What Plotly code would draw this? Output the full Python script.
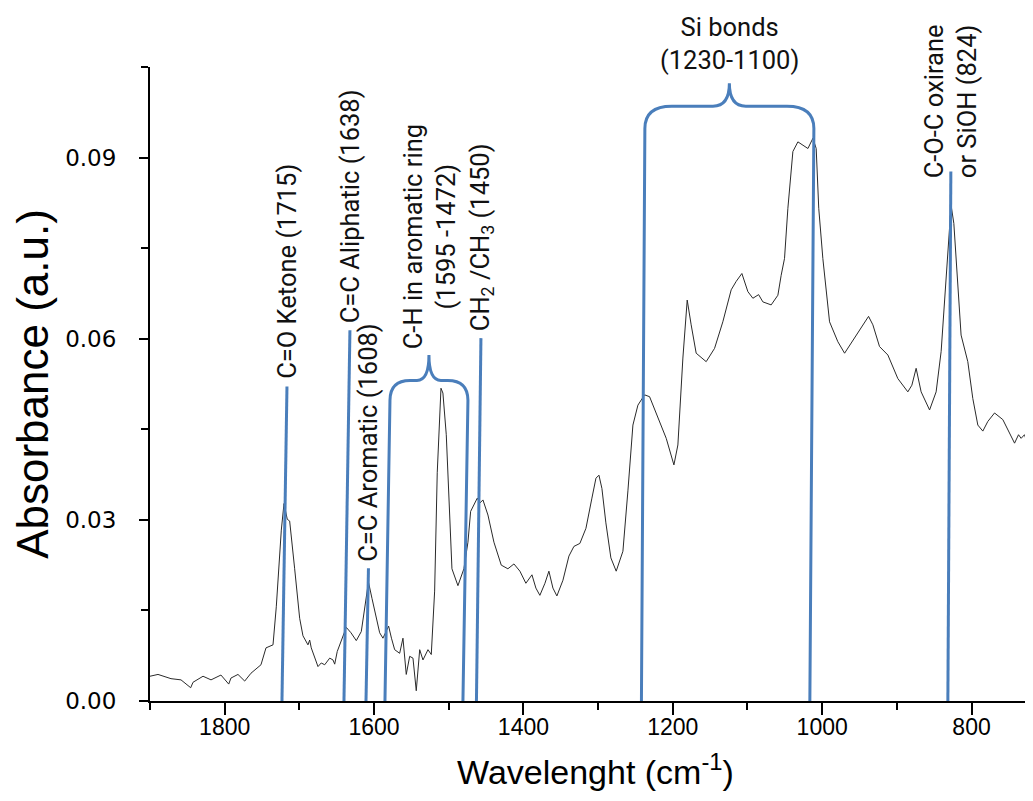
import plotly.graph_objects as go

# ---------------- spectrum (wavenumber cm-1, absorbance a.u.) ----------------
wavenumber = [1900, 1889.3, 1871.9, 1858.5, 1845.5, 1842.4, 1829.0, 1818.3, 1805.0, 1794.6,
              1791.6, 1782.2, 1773.2, 1764.8, 1751.4, 1744.7, 1735.3, 1730.9, 1724.2, 1720.6,
              1716.2, 1713.0, 1706.3, 1699.6, 1695.2, 1688.5, 1686.2, 1684.1, 1675.1, 1670.7,
              1666.1, 1659.4, 1655.0, 1652.7, 1649.3, 1643.9, 1637.2, 1630.9, 1623.8, 1617.1,
              1612.2, 1607.5, 1602.8, 1598.8, 1592.5, 1588.1, 1580.5, 1576.7, 1572.4, 1565.7,
              1561.3, 1556.9, 1552.3, 1547.9, 1543.5, 1538.9, 1534.5, 1527.8, 1523.4, 1518.9,
              1515.4, 1510.4, 1507.8, 1503.3, 1498.8, 1495.7, 1487.7, 1479.7, 1474.3, 1470.7,
              1461.8, 1458.2, 1454.2, 1447.5, 1439.5, 1429.7, 1420.8, 1412.7, 1404.7, 1396.7,
              1388.6, 1383.3, 1378.0, 1371.2, 1365.9, 1360.5, 1355.2, 1347.1, 1339.1, 1332.4,
              1324.4, 1316.3, 1308.3, 1302.9, 1298.9, 1294.9, 1289.6, 1282.9, 1275.8, 1266.8,
              1260.1, 1253.4, 1246.7, 1237.8, 1231.1, 1220.0, 1208.8, 1198.5, 1193.2, 1186.5,
              1180.7, 1175.4, 1168.7, 1155.3, 1144.1, 1133.0, 1121.8, 1115.1, 1107.5, 1099.5,
              1092.8, 1085.1, 1079.4, 1068.3, 1059.3, 1054.9, 1050.4, 1045.9, 1039.2, 1032.5,
              1025.8, 1019.1, 1012.4, 1008.0, 1004.6, 999.1, 990.1, 979.0, 970.0, 956.7,
              947.8, 937.9, 932.1, 923.2, 912.0, 898.7, 885.3, 879.9, 874.2, 867.5,
              856.2, 847.4, 840.7, 835.3, 829.5, 827.4, 823.7, 820.7, 814.0, 805.0,
              798.3, 791.6, 784.9, 778.2, 769.2, 758.1, 751.4, 742.4, 737.1, 733.6,
              729.1, 723.7, 715.7, 707.2]
absorbance = [0.0041, 0.0044, 0.0037, 0.0035, 0.0022, 0.0031, 0.0041, 0.0035, 0.0043, 0.0028,
              0.0038, 0.0044, 0.0033, 0.0046, 0.0060, 0.0088, 0.0093, 0.0156, 0.0283, 0.0327,
              0.0301, 0.0298, 0.0219, 0.0137, 0.0108, 0.0093, 0.0101, 0.0088, 0.0057, 0.0063,
              0.0060, 0.0071, 0.0068, 0.0061, 0.0082, 0.0099, 0.0122, 0.0113, 0.0100, 0.0115,
              0.0154, 0.0197, 0.0170, 0.0146, 0.0113, 0.0104, 0.0124, 0.0104, 0.0085, 0.0079,
              0.0104, 0.0044, 0.0074, 0.0071, 0.0017, 0.0085, 0.0068, 0.0085, 0.0077, 0.0182,
              0.0378, 0.0518, 0.0510, 0.0441, 0.0314, 0.0219, 0.0191, 0.0219, 0.0263, 0.0314,
              0.0336, 0.0328, 0.0333, 0.0308, 0.0263, 0.0225, 0.0219, 0.0227, 0.0215, 0.0195,
              0.0209, 0.0187, 0.0175, 0.0195, 0.0215, 0.0187, 0.0174, 0.0200, 0.0240, 0.0256,
              0.0261, 0.0286, 0.0336, 0.0369, 0.0374, 0.0352, 0.0295, 0.0237, 0.0215, 0.0248,
              0.0348, 0.0457, 0.0490, 0.0507, 0.0504, 0.0468, 0.0435, 0.0391, 0.0424, 0.0568,
              0.0664, 0.0623, 0.0576, 0.0562, 0.0584, 0.0628, 0.0681, 0.0695, 0.0708, 0.0678,
              0.0667, 0.0673, 0.0661, 0.0656, 0.0672, 0.0705, 0.0733, 0.0816, 0.0910, 0.0926,
              0.0921, 0.0915, 0.0932, 0.0915, 0.0816, 0.0733, 0.0628, 0.0595, 0.0576, 0.0601,
              0.0617, 0.0637, 0.0623, 0.0587, 0.0573, 0.0534, 0.0512, 0.0523, 0.0551, 0.0512,
              0.0482, 0.0512, 0.0579, 0.0678, 0.0783, 0.0821, 0.0791, 0.0733, 0.0606, 0.0562,
              0.0501, 0.0457, 0.0447, 0.0463, 0.0477, 0.0466, 0.0449, 0.0427, 0.0441, 0.0435,
              0.0441, 0.0421, 0.0419, 0.0417]

# ---------------- single band markers ----------------
band_x_bottom = [1723.3, 1640.3, 1610.8, 1462.9, 831.7]
band_x_top = [1716.6, 1632.3, 1607.5, 1456.9, 827.7]
band_y_top = [0.0521, 0.0614, 0.0220, 0.0601, 0.0877]
band_label_y = [0.0531, 0.0622, 0.0228, 0.0609, 0.0862]
band_labels = ["C=O Ketone (1715)", "C=C Aliphatic (1638)", "C=C Aromatic (1608)",
               "CH<sub>2</sub> /CH<sub>3</sub> (1450)", "C-O-C oxirane<br>or SiOH (824)"]

# ---------------- bracketed ranges ----------------
range_left_bottom = [1585.4, 1242.0]
range_left_top = [1578.7, 1237.4]
range_right_bottom = [1481.0, 1016.5]
range_right_top = [1474.3, 1011.1]
range_y_top = [0.0498, 0.0948]
range_y_bar = [0.0531, 0.0985]
range_y_tip = [0.0573, 0.1023]
range_corner = [27, 36]
range_tip_half = [16, 22]
range_label_y = [0.0580, 0.1034]
range_labels = ["C-H in aromatic ring<br>(1595 -1472)", "Si bonds<br>(1230-1100)"]
range_label_angle = [-90, 0]

BLUE = "#4a7ebb"
ANN_FONT = dict(family="Roboto", size=25.5, color="#111111")
SANS = "Liberation Sans, Arial"

fig = go.Figure()
fig.add_trace(go.Scatter(x=wavenumber, y=absorbance, mode="lines",
                         line=dict(color="#2a2a2a", width=1), hoverinfo="skip",
                         showlegend=False))

for xb, xt, yt, ly, lab in zip(band_x_bottom, band_x_top, band_y_top, band_label_y, band_labels):
    fig.add_shape(type="line", xref="x", yref="y", x0=xb, y0=0, x1=xt, y1=yt,
                  line=dict(color=BLUE, width=3), layer="above")
    fig.add_annotation(x=xt, y=ly, xref="x", yref="y", text=lab, textangle=-90,
                       showarrow=False, xanchor="center", yanchor="bottom", font=ANN_FONT)

for lb, lt, rb, rt, yt, yb, ytip, rc, th, ly, lab, ang in zip(
        range_left_bottom, range_left_top, range_right_bottom, range_right_top,
        range_y_top, range_y_bar, range_y_tip, range_corner, range_tip_half,
        range_label_y, range_labels, range_label_angle):
    mid = (lt + rt) / 2
    path = (f"M {lb},0 L {lt},{yt} Q {lt},{yb} {lt - rc},{yb} "
            f"L {mid + th},{yb} Q {mid},{yb} {mid},{ytip} "
            f"Q {mid},{yb} {mid - th},{yb} L {rt + rc},{yb} "
            f"Q {rt},{yb} {rt},{yt} L {rb},0")
    fig.add_shape(type="path", xref="x", yref="y", path=path,
                  line=dict(color=BLUE, width=3), layer="above")
    fig.add_annotation(x=mid, y=ly, xref="x", yref="y", text=lab, textangle=ang,
                       showarrow=False, xanchor="center", yanchor="bottom", font=ANN_FONT)

x_ticks = [1800, 1600, 1400, 1200, 1000, 800]
x_minor = [1900, 1700, 1500, 1300, 1100, 900]
y_ticks = [0.00, 0.03, 0.06, 0.09]
y_minor = [0.015, 0.045, 0.075, 0.105]

fig.update_layout(
    width=1033, height=801,
    margin=dict(l=142, r=0, t=59, b=108),
    paper_bgcolor="white", plot_bgcolor="white",
    xaxis=dict(range=[1900, 707], tickvals=x_ticks, ticks="outside", ticklen=12, tickwidth=2,
               tickcolor="black", showline=True, linecolor="black", linewidth=2,
               showgrid=False, zeroline=False, automargin=False, ticklabelstandoff=-8,
               tickfont=dict(family=SANS, size=23, color="black"),
               minor=dict(tickvals=x_minor, ticks="outside", ticklen=7, tickwidth=2,
                          tickcolor="black"),
               title=dict(text="Wavelenght (cm<sup>-1</sup>)", standoff=22,
                          font=dict(family=SANS, size=34, color="black"))),
    yaxis=dict(range=[0, 0.105], tickvals=y_ticks, tickformat=".2f", ticks="outside",
               ticklen=9, tickwidth=2, tickcolor="black", showline=True, linecolor="black",
               linewidth=2, showgrid=False, zeroline=False, automargin=False,
               ticklabelstandoff=18,
               tickfont=dict(family="DejaVu Sans", size=23, color="black"),
               minor=dict(tickvals=y_minor, ticks="outside", ticklen=7, tickwidth=2,
                          tickcolor="black"),
               title=dict(text="Absorbance (a.u.)", standoff=6,
                          font=dict(family=SANS, size=44, color="black"))),
)

fig.write_html("out.html")
